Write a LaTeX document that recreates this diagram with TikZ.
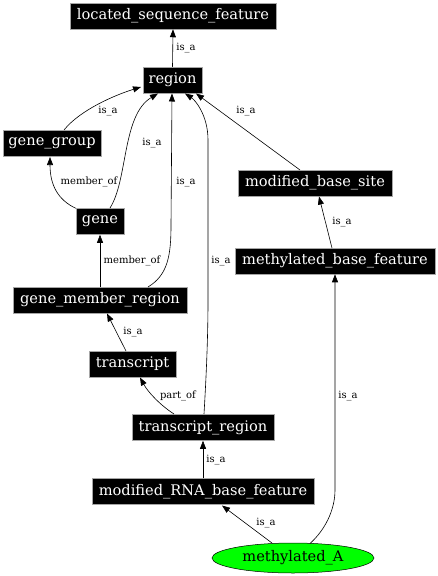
\documentclass[tikz,border=0pt]{standalone}
\usepackage{fontspec}
\setmainfont{DejaVu Serif}
\usetikzlibrary{arrows.meta,shapes.geometric}
\tikzset{
  box/.style={fill=black,draw=gray!70,line width=0.5pt,text=white,minimum height=26pt,inner sep=0pt,font=\fontsize{14.6}{16}\selectfont},
  lbl/.style={font=\fontsize{10}{11}\selectfont,inner sep=0pt},
  edge/.style={draw=black,line width=0.6pt,-{Triangle[length=8pt,width=6pt]}}
}
\begin{document}
\begin{tikzpicture}[x=1pt,y=-1pt]
\useasboundingbox (0,0) rectangle (437,576);
\node[box,minimum width=206pt] (lsf) at (173,16) {located\_sequence\_feature};
\node[box,minimum width=59pt] (region) at (172.5,80) {region};
\node[box,minimum width=98pt] (gg) at (52,143) {gene\_group};
\node[box,minimum width=154pt] (mbs) at (315,183) {modified\_base\_site};
\node[box,minimum width=48pt] (gene) at (100,221.5) {gene};
\node[box,minimum width=200pt] (mbf) at (335,261) {methylated\_base\_feature};
\node[box,minimum width=174pt] (gmr) at (100,300) {gene\_member\_region};
\node[box,minimum width=87pt] (tr) at (132.5,364) {transcript};
\node[box,minimum width=142pt] (trr) at (203,427.5) {transcript\_region};
\node[box,minimum width=222pt] (mrbf) at (203,491.5) {modified\_RNA\_base\_feature};
\node[ellipse,fill=green,draw=black,line width=0.5pt,minimum width=162pt,minimum height=30pt,inner sep=0pt,font=\fontsize{14.6}{16}\selectfont] (mA) at (293,558) {methylated\_A};

% edges
\draw[edge] (region.north) -- (lsf.south);
\draw[edge] (64,130) .. controls (80,110) and (115,95) .. (141,87);
\draw[edge] (gene.north west) .. controls (58,200) and (50,185) .. (50,157);
\draw[edge] (110,208) .. controls (128,180) and (122,115) .. (158,93.5);
\draw[edge] (gmr.north) -- (gene.south);
\draw[edge] (148,287) .. controls (168,275) and (171,255) .. (171,225) -- (172,93.5);
\draw[edge] (204,414) .. controls (206,380) and (208,340) .. (208,300) -- (208,140) .. controls (208,115) and (195,100) .. (185,93.5);
\draw[edge] (300,170) -- (196,93.5);
\draw[edge] (332,248) -- (319,196.5);
\draw[edge] (126,351) -- (107,313.5);
\draw[edge] (174,414) .. controls (160,405) and (148,392) .. (140,377.5);
\draw[edge] (mrbf.north) -- (trr.south);
\draw[edge] (272,543) -- (222,505.5);
\draw[edge] (310,543.5) .. controls (325,530) and (335,510) .. (335,490) -- (mbf.south);

% labels
\node[lbl] (l1) at (186,48) {is\_a};
\node[lbl] (l2) at (108,111) {is\_a};
\node[lbl] (l3) at (246,111) {is\_a};
\node[lbl] (l4) at (152,143) {is\_a};
\node[lbl] (l5) at (89,182) {member\_of};
\node[lbl] (l6) at (186,182) {is\_a};
\node[lbl] (l7) at (342,222) {is\_a};
\node[lbl] (l8) at (221,261) {is\_a};
\node[lbl] (l9) at (132,261) {member\_of};
\node[lbl] (l10) at (133,332) {is\_a};
\node[lbl] (l11) at (178,396) {part\_of};
\node[lbl] (l12) at (348,396) {is\_a};
\node[lbl] (l13) at (216,460) {is\_a};
\node[lbl] (l14) at (266,523) {is\_a};
\end{tikzpicture}
\end{document}
